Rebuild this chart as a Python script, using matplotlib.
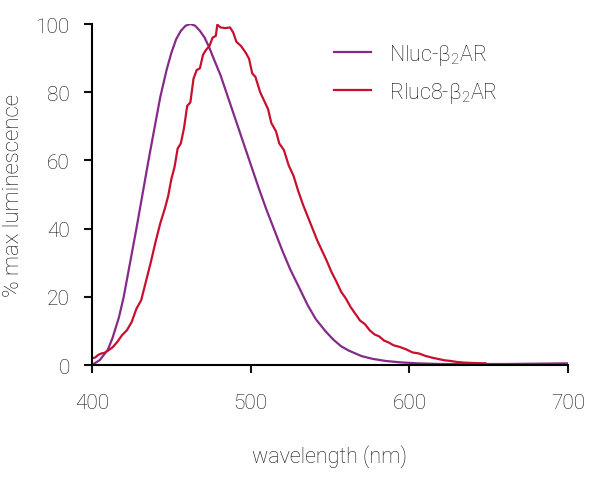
import matplotlib
matplotlib.use('Agg')
import matplotlib.pyplot as plt

# Nluc-b2AR emission spectrum
nluc_nm = [400, 405, 410, 413, 417, 420, 424, 428, 432, 436, 440, 443, 447, 450,
           453, 456, 459, 462, 465, 468, 471, 474, 477, 481, 485, 489, 493, 497,
           501, 505, 510, 515, 520, 525, 531, 536, 541, 547, 552, 557, 562, 570,
           577, 585, 594, 605, 620, 640, 660, 680, 700]
nluc_val = [0.0, 1.5, 4.5, 8.0, 14.0, 20.0, 30.0, 40.0, 50.5, 61.0, 71.0, 78.5, 86.5, 91.5,
            95.5, 98.0, 99.5, 100.0, 99.5, 98.0, 96.0, 93.0, 89.5, 85.0, 79.5, 74.0, 68.5, 63.0,
            57.5, 52.0, 45.5, 39.5, 33.5, 28.0, 22.3, 17.5, 13.5, 10.0, 7.5, 5.5, 4.2, 2.6,
            1.8, 1.2, 0.8, 0.5, 0.3, 0.3, 0.3, 0.4, 0.5]

# Rluc8-b2AR emission spectrum
rluc_nm = [400, 402, 404, 406, 408, 410, 413, 416, 419, 422, 425, 428, 431, 434,
           437, 440, 443, 446, 448, 450, 452, 454, 456, 458, 460, 462, 464, 466,
           468, 470, 472, 474, 476, 478, 479, 481, 484, 487, 489, 491, 494, 497,
           499, 501, 503, 506, 508, 511, 513, 516, 518, 521, 524, 527, 530, 533,
           536, 539, 542, 545, 548, 551, 554, 557, 560, 563, 566, 569, 572, 575,
           578, 581, 584, 587, 590, 594, 598, 602, 606, 610, 614, 618, 622, 626,
           630, 635, 640, 648]
rluc_val = [2.0, 2.2, 3.0, 3.4, 3.6, 4.2, 5.2, 6.8, 8.8, 10.2, 12.6, 16.5, 19.0, 24.5,
            30.0, 36.0, 41.5, 46.0, 49.5, 54.5, 58.0, 63.5, 65.0, 69.5, 76.0, 77.0, 84.0, 86.5,
            87.0, 91.0, 92.5, 93.5, 96.0, 96.5, 99.8, 99.0, 98.8, 99.0, 97.5, 94.8, 93.5, 91.5,
            89.8, 85.5, 84.5, 80.0, 78.0, 75.0, 71.0, 68.5, 65.0, 63.0, 58.5, 55.5, 51.0, 47.0,
            43.5, 40.0, 36.5, 33.5, 30.5, 27.2, 24.5, 21.5, 19.5, 17.0, 15.0, 13.0, 12.0, 10.2,
            9.0, 8.4, 7.2, 6.6, 5.8, 5.3, 4.6, 3.7, 3.4, 2.7, 2.2, 1.8, 1.4, 1.2,
            0.9, 0.7, 0.6, 0.5]

plt.rcParams['font.family'] = ['Roboto', 'DejaVu Sans']
plt.rcParams['font.weight'] = 'light'
plt.rcParams['axes.labelweight'] = 'light'
plt.rcParams['mathtext.fontset'] = 'custom'
plt.rcParams['mathtext.rm'] = 'Roboto:light'
plt.rcParams['mathtext.it'] = 'Roboto:light'
text_col = '#111111'

fig = plt.figure(figsize=(6.0, 4.81), dpi=100)
ax = fig.add_axes([0.1533, 0.239, 0.7934, 0.709])

ax.plot(nluc_nm, nluc_val, color='#862a8a', lw=1.6, label=r'Nluc-β$_2$AR')
ax.plot(rluc_nm, rluc_val, color='#c8102e', lw=1.6, label=r'Rluc8-β$_2$AR')

ax.set_xlim(400, 700)
ax.set_ylim(0, 100)
ax.set_xticks([400, 500, 600, 700])
ax.set_yticks([0, 20, 40, 60, 80, 100])
ax.spines['top'].set_visible(False)
ax.spines['right'].set_visible(False)
for s in ('left', 'bottom'):
    ax.spines[s].set_linewidth(1.5)
ax.tick_params(direction='out', length=6, width=1.5, labelsize=15, color='#111111',
               labelcolor=text_col)
ax.tick_params(axis='x', pad=14)
ax.tick_params(axis='y', pad=10)

ax.set_xlabel('wavelength (nm)', fontsize=15.5, color=text_col, labelpad=23,
              fontweight='light')
ax.set_ylabel('% max luminescence', fontsize=16, color=text_col, labelpad=8,
              fontweight='light')

ax.legend(loc='upper left', bbox_to_anchor=(0.490, 0.973), borderaxespad=0,
          frameon=False, fontsize=15.5, handlelength=1.72, handletextpad=0.84,
          labelspacing=0.6, labelcolor=text_col)

fig.savefig('out.png', dpi=100)
